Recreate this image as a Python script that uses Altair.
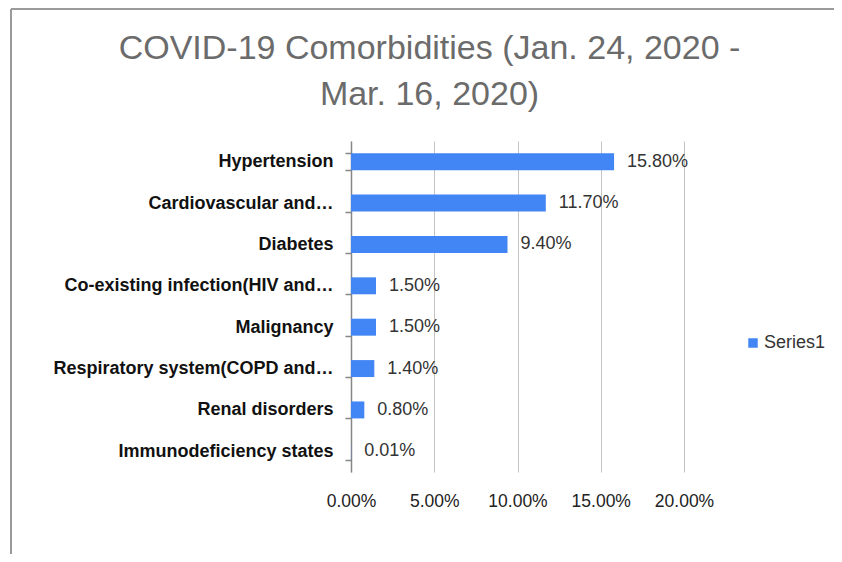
import altair as alt
import pandas as pd

categories = [
    "Hypertension",
    "Cardiovascular and…",
    "Diabetes",
    "Co-existing infection(HIV and…",
    "Malignancy",
    "Respiratory system(COPD and…",
    "Renal disorders",
    "Immunodeficiency states",
]
values = [0.158, 0.117, 0.094, 0.015, 0.015, 0.014, 0.008, 0.0001]
series = ["Series1"] * len(categories)
x_ticks = [0.0, 0.05, 0.10, 0.15, 0.20]
title_lines = ["COVID-19 Comorbidities (Jan. 24, 2020 -", "Mar. 16, 2020)"]

FONT = "Liberation Sans"
df = pd.DataFrame({"category": categories, "value": values, "series": series})

x_enc = alt.X(
    "value:Q",
    scale=alt.Scale(domain=[0, 0.2], nice=False),
    axis=alt.Axis(
        values=x_ticks, format=".2%", domain=False, ticks=False, grid=True,
        gridColor="#c4c4c4", gridWidth=1, labelFont=FONT, labelFontSize=17.5,
        labelColor="#222222", labelPadding=20, title=None, labelOverlap=False,
        labelFlush=False,
    ),
)
y_enc = alt.Y(
    "category:N", sort=None, title=None,
    scale=alt.Scale(paddingInner=0.59, paddingOuter=0.295),
    axis=alt.Axis(
        domainColor="#868686", domainWidth=1.5, tickColor="#868686", tickWidth=1.5,
        tickSize=6, tickBand="extent", labelFont=FONT, labelFontSize=18,
        labelFontWeight="bold", labelColor="#111111", labelPadding=12,
        labelLimit=500, grid=False, labelOverlap=False,
    ),
)

base = alt.Chart(df)
bars = base.mark_bar().encode(
    x=x_enc,
    y=y_enc,
    color=alt.Color(
        "series:N",
        scale=alt.Scale(range=["#4285F4"]),
        legend=alt.Legend(
            title=None, orient="none", legendX=393, legendY=193,
            symbolType="square", symbolSize=90, symbolStrokeWidth=0,
            labelOffset=2, labelFont=FONT, labelFontSize=18, labelColor="#333333",
        ),
    ),
)
labels = base.mark_text(
    align="left", baseline="middle", dx=13, font=FONT, fontSize=18, color="#333333"
).encode(x="value:Q", y=alt.Y("category:N", sort=None), text=alt.Text("value:Q", format=".2%"))

frame_df = pd.DataFrame({"k": [0]})
top_line = alt.Chart(frame_df).mark_rule(color="#9a9a9a", strokeWidth=2).encode(
    x=alt.value(-340), x2=alt.value(483), y=alt.value(-132), y2=alt.value(-132)
)
left_line = alt.Chart(frame_df).mark_rule(color="#9a9a9a", strokeWidth=2).encode(
    x=alt.value(-340), x2=alt.value(-340), y=alt.value(-132), y2=alt.value(413)
)

chart = alt.layer(bars, labels, top_line, left_line).properties(
    width=333,
    height=331,
    title=alt.Title(
        text=title_lines, font=FONT, fontSize=34, fontWeight="normal",
        color="#6b6b6b", anchor="middle", frame="group", dx=-88, offset=-104,
        lineHeight=46,
    ),
    autosize=alt.AutoSizeParams(type="none"),
    padding={"left": 343, "top": 133, "right": 150, "bottom": 82},
).configure_view(stroke=None)

chart.save("out.html", embed_options={"renderer": "svg", "actions": False})
